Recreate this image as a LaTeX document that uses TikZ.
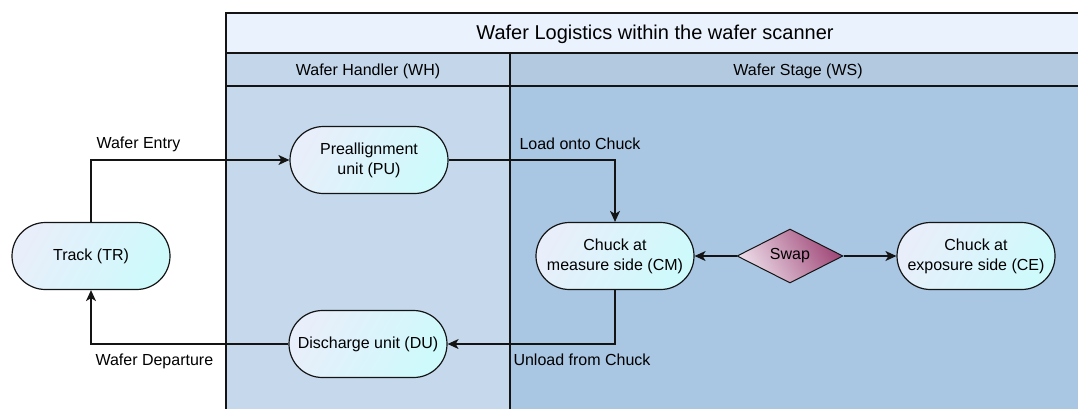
\documentclass[tikz,border=0pt]{standalone}
\usepackage{fontspec}
\setmainfont{Liberation Sans}
\usetikzlibrary{shapes.geometric,shapes.misc,arrows.meta}
\definecolor{titlefill}{RGB}{234,242,253}
\definecolor{whhead}{RGB}{195,214,234}
\definecolor{whbody}{RGB}{197,216,236}
\definecolor{wshead}{RGB}{179,201,223}
\definecolor{wsbody}{RGB}{169,198,226}
\definecolor{nodeleft}{RGB}{232,238,250}
\definecolor{noderight}{RGB}{206,250,252}
\definecolor{swapleft}{RGB}{236,220,232}
\definecolor{swapright}{RGB}{160,72,120}
\definecolor{edge}{RGB}{20,20,20}
\tikzset{
  x=1pt, y=-1pt,
  every node/.style={font=\fontsize{16}{20}\selectfont, text=black},
  proc/.style={rounded rectangle, draw=edge, line width=1.2pt,
    minimum width=162pt, minimum height=67pt, align=center, inner sep=2pt,
    left color=nodeleft, right color=noderight, shading angle=60},
  decide/.style={diamond, draw=edge, line width=1pt, aspect=2,
    minimum width=106pt, minimum height=54pt, inner sep=0pt,
    left color=swapleft, right color=swapright, shading angle=120},
  flow/.style={draw=edge, line width=1.2pt, -{Stealth[length=11pt,width=10pt,inset=3pt]}},
  lbl/.style={font=\fontsize{16}{20}\selectfont},
  pool/.style={draw=edge, line width=1.5pt}
}
\begin{document}
\begin{tikzpicture}
\useasboundingbox (0,0) rectangle (1078,408);
\clip (0,0) rectangle (1078,408);
% swimlane backgrounds
\fill[titlefill] (226,13) rectangle (1095,53);
\fill[whhead] (226,53) rectangle (510,86);
\fill[wshead] (510,53) rectangle (1095,86);
\fill[whbody] (226,86) rectangle (510,420);
\fill[wsbody] (510,86) rectangle (1095,420);
% swimlane borders
\draw[pool] (1095,13) -- (226,13) -- (226,420);
\draw[pool] (226,53) -- (1095,53);
\draw[pool] (226,86) -- (1095,86);
\draw[pool] (510,53) -- (510,420);
% headers
\node[font=\fontsize{20}{24}\selectfont] (title) at (655,34) {Wafer Logistics within the wafer scanner};
\node (wh) at (368,71) {Wafer Handler (WH)};
\node (ws) at (798,71) {Wafer Stage (WS)};
% process nodes
\node[proc] (tr) at (91,256) {Track (TR)};
\node[proc] (pu) at (369,160) {Preallignment\\unit (PU)};
\node[proc] (cm) at (615,256) {Chuck at\\measure side (CM)};
\node[proc] (ce) at (976,256) {Chuck at\\exposure side (CE)};
\node[proc] (du) at (368,344) {Discharge unit (DU)};
\node[decide] (swap) at (790,256) {Swap};
% connectors
\draw[flow] (tr.north) |- (pu.west);
\draw[flow] (pu.east) -| (cm.north);
\draw[flow] (cm.south) |- (du.east);
\draw[flow] (du.west) -| (tr.south);
\draw[flow] (swap.west) -- (cm.east);
\draw[flow] (swap.east) -- (ce.west);
% connector labels
\node[lbl, anchor=west] (l1) at (93,144) {Wafer Entry};
\node[lbl, anchor=west] (l2) at (516,144) {Load onto Chuck};
\node[lbl, anchor=west] (l3) at (510,360) {Unload from Chuck};
\node[lbl, anchor=west] (l4) at (92,361) {Wafer Departure};
\end{tikzpicture}
\end{document}
